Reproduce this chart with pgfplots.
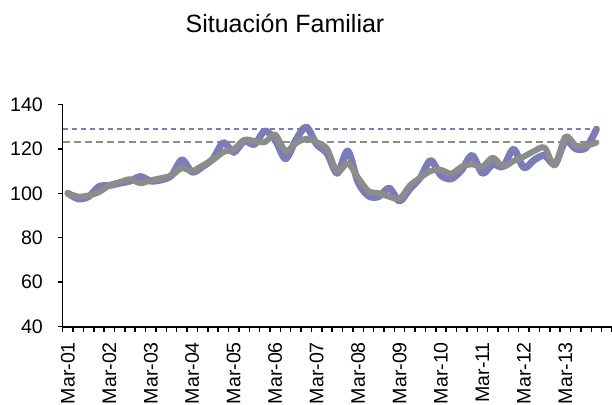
\documentclass[border=0pt]{standalone}
\usepackage{fontspec}
\setmainfont{Liberation Sans}
\usepackage{pgfplots}
\usepackage{pgfplotstable}
\pgfplotsset{compat=1.18}
\definecolor{serblue}{RGB}{124,124,184}
\definecolor{sergray}{RGB}{140,140,140}

\pgfplotstableread{
i blue gray
0 100 100
1 97.5 98.5
2 98.5 99
3 103 100.5
4 103.5 103.5
5 104.5 105
6 105.5 106.3
7 107.5 104.5
8 105.5 105.8
9 106 106.8
10 108 108
11 115 111.3
12 109.5 110
13 112 112.5
14 115.5 115
15 122.8 118.5
16 118.4 119.8
17 123.5 124
18 122 123.5
19 128 123
20 124 126.4
21 115.5 119
22 124 122.5
23 129.8 124.5
24 122 123
25 118 120
26 109 109.6
27 119 113.5
28 105 107
29 98.8 101
30 98.5 100
31 102.3 98.5
32 96.5 97.5
33 102 103.5
34 107 107
35 114.7 110
36 108 110.5
37 106.5 108.8
38 110.5 112
39 117 113
40 109 112
41 113 116
42 112 112
43 119.8 114.5
44 111.5 116.5
45 115 119
46 117 120.5
47 113 112.5
48 123.5 125.5
49 120 121.5
50 120.5 121.3
51 128.8 122.8
}\datatable

\begin{document}
\begin{tikzpicture}
\begin{axis}[
  name=ax, at={(0,0)}, anchor=south west,
  width=274.65pt, height=111.2pt, scale only axis,
  xmin=-0.5, xmax=52.5, ymin=40, ymax=140,
  axis x line*=bottom, axis y line*=left,
  axis line style={-, line width=0.8pt, black},
  tick align=outside, major tick length=2.5pt,
  tick style={black, line width=0.75pt},
  xtick={-0.5,0.5,...,52.5}, xticklabels={},
  extra x ticks={0,4,...,48},
  extra x tick labels={Mar-01,Mar-02,Mar-03,Mar-04,Mar-05,Mar-06,Mar-07,Mar-08,Mar-09,Mar-10,Mar-11,Mar-12,Mar-13},
  extra x tick style={major tick length=0pt, tick label style={rotate=90, anchor=east, inner sep=0pt, xshift=-7.5pt, font=\fontsize{9.8}{11}\selectfont}},
  ytick={40,60,...,140},
  yticklabel style={anchor=east, inner sep=0pt, xshift=-7.2pt, font=\fontsize{9.8}{11}\selectfont},
  /pgf/number format/assume math mode=true,
  title={Situación Familiar},
  title style={at={(axis description cs:0.4047,1)}, anchor=base, yshift=29.8pt, inner sep=0pt, font=\fontsize{12.5}{15}\selectfont},
  clip=false,
]
\addplot[serblue, line width=1pt, dash pattern=on 2.5pt off 2pt] coordinates {(-0.5,129) (51,129)};
\addplot[sergray, line width=1pt, dash pattern=on 3.5pt off 2pt] coordinates {(-0.5,123) (51,123)};
\addplot[serblue, line width=3.5pt, smooth, line join=round, line cap=round] table[x=i, y=blue] {\datatable};
\addplot[sergray, line width=3pt, smooth, line join=round, line cap=round] table[x=i, y=gray] {\datatable};
\end{axis}
\pgfresetboundingbox
\path[use as bounding box] (-31.35pt,-38.65pt) rectangle (274.65pt,163.35pt);
\end{tikzpicture}
\end{document}
